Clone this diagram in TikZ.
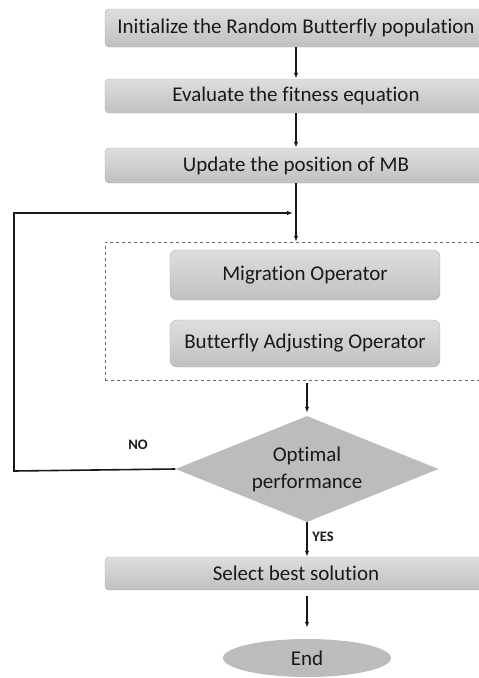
\documentclass[tikz,border=0pt]{standalone}
\usepackage{fontspec}
\setmainfont{Carlito}[Ligatures=NoCommon]
\usepackage{tikz}
\usetikzlibrary{shapes.geometric,arrows.meta}
\definecolor{boxtop}{RGB}{222,222,222}
\definecolor{boxbot}{RGB}{192,192,192}
\definecolor{boxline}{RGB}{175,175,175}
\definecolor{shapefill}{RGB}{188,188,188}

\begin{document}
\begin{tikzpicture}[x=1pt,y=-1pt,>={Latex[length=6pt,width=4.5pt]},
    stepbox/.style={draw=boxline,rounded corners=4pt,top color=boxtop,bottom color=boxbot,
        minimum width=382pt,inner sep=0pt,text=black!90,font=\fontsize{21}{23}\selectfont},
    opbox/.style={stepbox,minimum width=270pt,rounded corners=7pt},
    decision/.style={diamond,fill=shapefill,inner sep=0pt,minimum width=263pt,minimum height=106pt},
    decisiontext/.style={align=center,text=black!90,font=\fontsize{21}{27}\selectfont},
    endbox/.style={ellipse,fill=shapefill,inner sep=0pt,minimum width=168pt,minimum height=38pt,
        text=black!90,font=\fontsize{21}{23}\selectfont},
    tag/.style={font=\fontsize{14.5}{15}\bfseries\selectfont,text=black!90},
    link/.style={->,line width=1.2pt,black!90}]
    \useasboundingbox (0,0) rectangle (479,678);
    \node[stepbox,minimum height=38pt] (init) at (296,28){Initialize the Random Butterfly population};
    \node[stepbox,minimum height=34pt] (eval) at (296,96){Evaluate the fitness equation};
    \node[stepbox,minimum height=35pt] (update) at (296,165.5){Update the position of MB};
    % operators
    \node[draw=black!60,dashed,line width=0.5pt,minimum width=382pt,minimum height=138pt] (ops) at (296,311){};
    \node[opbox,minimum height=50pt] (mig) at (305,275){Migration Operator};
    \node[opbox,minimum height=47pt] (adj) at (305,343.5){Butterfly Adjusting Operator};
    \node[decision,label={[decisiontext]center:Optimal\\performance}] (opt) at (307,469){};
    \node[stepbox,minimum height=33pt] (sel) at (296,573.5){Select best solution};
    \node[endbox] (end) at (307,658){End};
    \node[tag] (no) at (138,445){NO};
    \node[tag] (yes) at (323,537){YES};
    \coordinate (join) at (296,213);
    \coordinate (corner) at (14,471);
    \draw [link] (init) -- (eval);
    \draw [link] (eval) -- (update);
    \draw [link] (update) -- (ops.north);
    \draw [link,shorten <=3pt,shorten >=3pt] (opt.north |- ops.south) -- (opt.north);
    \draw [link] (opt.south) -- (opt.south |- sel.north);
    \draw [link,shorten <=6pt,shorten >=11pt] (end.north |- sel.south) -- (end.north);
    \draw [link,line width=1.6pt] (opt.west) -- (corner) |- ([xshift=-3pt]join);
\end{tikzpicture}
\end{document}
